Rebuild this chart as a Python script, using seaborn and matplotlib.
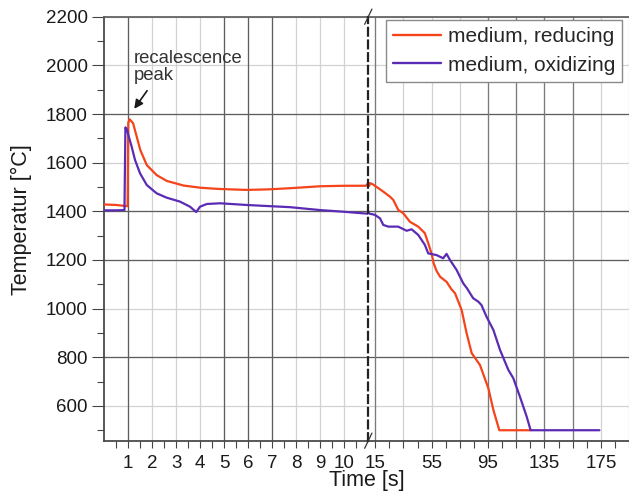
import numpy as np
import pandas as pd
import matplotlib.pyplot as plt
import seaborn as sns

# values: time [s], temperature [°C]
red_time = [0, 0.5, 0.97, 1.0, 1.06, 1.2, 1.35, 1.5, 1.77, 2.18, 2.6, 3.3, 4.0, 4.75,
            5.9, 6.8, 7.75, 9.0, 10.0, 10.9, 11.0, 13.0, 15.0, 17.5, 20.7, 25.5, 27.8,
            31.3, 34.9, 39.6, 45.5, 50.2, 52.6, 55.0, 56.5, 58.5, 61.0, 65.6, 69.0,
            71.6, 76.3, 79.8, 83.4, 89.3, 95.2, 98.8, 103.0, 125.0]
red_temp = [1428, 1426, 1421, 1765, 1778, 1762, 1707, 1652, 1590, 1549, 1525, 1506, 1497, 1492,
            1488, 1490, 1495, 1503, 1505, 1505, 1516, 1512, 1504, 1494, 1481, 1460, 1447,
            1406, 1392, 1357, 1337, 1310, 1269, 1225, 1185, 1155, 1131, 1110, 1080,
            1063, 994, 899, 817, 768, 673, 583, 500, 500]

blue_time = [0, 0.5, 0.84, 0.88, 0.95, 1.0, 1.14, 1.28, 1.49, 1.77, 2.18, 2.6, 3.15, 3.57,
             3.83, 3.99, 4.27, 4.82, 5.93, 7.74, 9.0, 10.0, 11.0, 13.0, 14.9, 18.4, 20.7,
             24.3, 31.3, 37.3, 40.8, 45.5, 50.2, 52.6, 58.5, 63.2, 65.6, 68.0, 72.7, 77.4,
             80.0, 84.4, 88.0, 90.3, 93.9, 98.8, 103.5, 109.4, 112.9, 117.6, 122.4, 125.2, 174.0]
blue_temp = [1404, 1404, 1405, 1745, 1735, 1714, 1666, 1611, 1556, 1508, 1474, 1456, 1440, 1419,
             1397, 1419, 1430, 1433, 1426, 1417, 1405, 1398, 1390, 1388, 1385, 1371, 1344,
             1337, 1337, 1320, 1326, 1303, 1262, 1227, 1220, 1207, 1225, 1200, 1159, 1104,
             1084, 1043, 1029, 1015, 967, 912, 830, 748, 714, 638, 556, 500, 500]

series_names = ['medium, reducing', 'medium, oxidizing']
series_colors = ['#F5441A', '#5B2BB5']

left_ticks = list(range(1, 11))
right_grid = list(range(15, 196, 20))
right_labels = [15, 55, 95, 135, 175]
y_major = list(range(600, 2201, 200))
dark_y = [800, 1200, 1400, 1800]
dark_x_left = [1, 5, 6, 7]
dark_x_right = [15, 95, 115, 135, 155]

df = pd.concat([
    pd.DataFrame({'time': red_time, 'temp': red_temp, 'series': series_names[0]}),
    pd.DataFrame({'time': blue_time, 'temp': blue_temp, 'series': series_names[1]}),
])

sns.set_theme(style='ticks')
plt.rcParams['font.family'] = ['Liberation Sans', 'DejaVu Sans']

W, H = 629, 495
left_px, break_px, right_px, top_px, bot_px = 104.3, 368.3, 629.5, 16.7, 440.7
fig = plt.figure(figsize=(W / 100, H / 100), dpi=100)
ax1 = fig.add_axes([left_px / W, 1 - bot_px / H, (break_px - left_px) / W, (bot_px - top_px) / H])
ax2 = fig.add_axes([break_px / W, 1 - bot_px / H, (right_px - break_px) / W, (bot_px - top_px) / H],
                   sharey=ax1)

light, dark, spine_c = '#d2d2d2', '#5e5e5e', '#444444'

for ax in (ax1, ax2):
    for name, color in zip(series_names, series_colors):
        sub = df[df['series'] == name]
        sns.lineplot(data=sub, x='time', y='temp', ax=ax, color=color, lw=1.6,
                     estimator=None, sort=False, label=name, legend=False, zorder=3)
    ax.set_ylim(457, 2200)
    ax.set_yticks(y_major)
    ax.set_yticks(range(500, 2200, 100), minor=True)
    ax.grid(which='major', axis='both', color=light, lw=0.9)
    ax.set_axisbelow(True)
    for y in dark_y:
        ax.axhline(y, color=dark, lw=0.9, zorder=1)
    ax.set_xlabel('')
    ax.set_ylabel('')
    ax.spines['top'].set_color(dark)
    ax.spines['bottom'].set_color(spine_c)
    ax.tick_params(axis='x', which='both', direction='out', length=5, width=0.8,
                   color=spine_c, labelsize=13.5, pad=5, labelcolor='#1a1a1a')

# left part: first seconds, linear
ax1.set_xlim(0, 11)
ax1.set_xticks(left_ticks)
ax1.set_xticks(np.arange(0.5, 11, 1), minor=True)
for x in dark_x_left:
    ax1.axvline(x, color=dark, lw=0.9, zorder=1)
ax1.spines['right'].set_visible(False)
ax1.spines['left'].set_color(spine_c)
ax1.tick_params(axis='y', which='major', direction='out', length=9, width=0.8,
                color=spine_c, labelsize=13.5, pad=3, labelcolor='#1a1a1a')
ax1.tick_params(axis='y', which='minor', direction='out', length=5, width=0.8, color=spine_c)

# right part: compressed time axis
ax2.set_xlim(10.1, 195.3)
ax2.set_xticks(right_grid)
ax2.set_xticklabels([str(v) if v in right_labels else '' for v in right_grid])
ax2.set_xticks(range(25, 196, 20), minor=True)
for x in dark_x_right:
    ax2.axvline(x, color='#7a7a7a', lw=0.9, zorder=1)
ax2.spines['right'].set_visible(False)
ax2.spines['left'].set_color('#222222')
ax2.spines['left'].set_linewidth(1.6)
ax2.spines['left'].set_linestyle((0, (3.5, 2.2)))
ax2.spines['left'].set_zorder(4)
ax2.tick_params(axis='y', which='both', left=False, labelleft=False)

# break marks
for yb in (0, 1):
    ax2.plot([-0.014, 0.014], [yb - 0.018, yb + 0.018], transform=ax2.transAxes,
             color='#333333', lw=0.9, clip_on=False, zorder=5)

# annotation
ax1.annotate('', xy=(1.18, 1812), xytext=(1.85, 1905),
             arrowprops=dict(arrowstyle='-|>', color='#1a1a1a', lw=1.2, mutation_scale=13))
ax1.text(1.22, 2062, 'recalescence\npeak', ha='left', va='top', fontsize=13.3,
         color='#333333', linespacing=1.0)

leg = ax2.legend(loc='upper right', bbox_to_anchor=(0.972, 0.992), borderaxespad=0,
                 fontsize=15, frameon=True, fancybox=False, framealpha=1,
                 edgecolor='#8a8a8a', handlelength=2.3, handletextpad=0.32,
                 borderpad=0.35, labelspacing=0.45)
leg.get_frame().set_linewidth(1.0)
for line in leg.get_lines():
    line.set_linewidth(1.7)

fig.text(21 / W, 1 - 220 / H, 'Temperatur [°C]', rotation=90, ha='center', va='center',
         fontsize=15.5, color='#1a1a1a')
fig.text(366.5 / W, 1 - 470 / H, 'Time [s]', ha='center', va='top',
         fontsize=15.5, color='#1a1a1a')

fig.savefig('out.png', dpi=100)
